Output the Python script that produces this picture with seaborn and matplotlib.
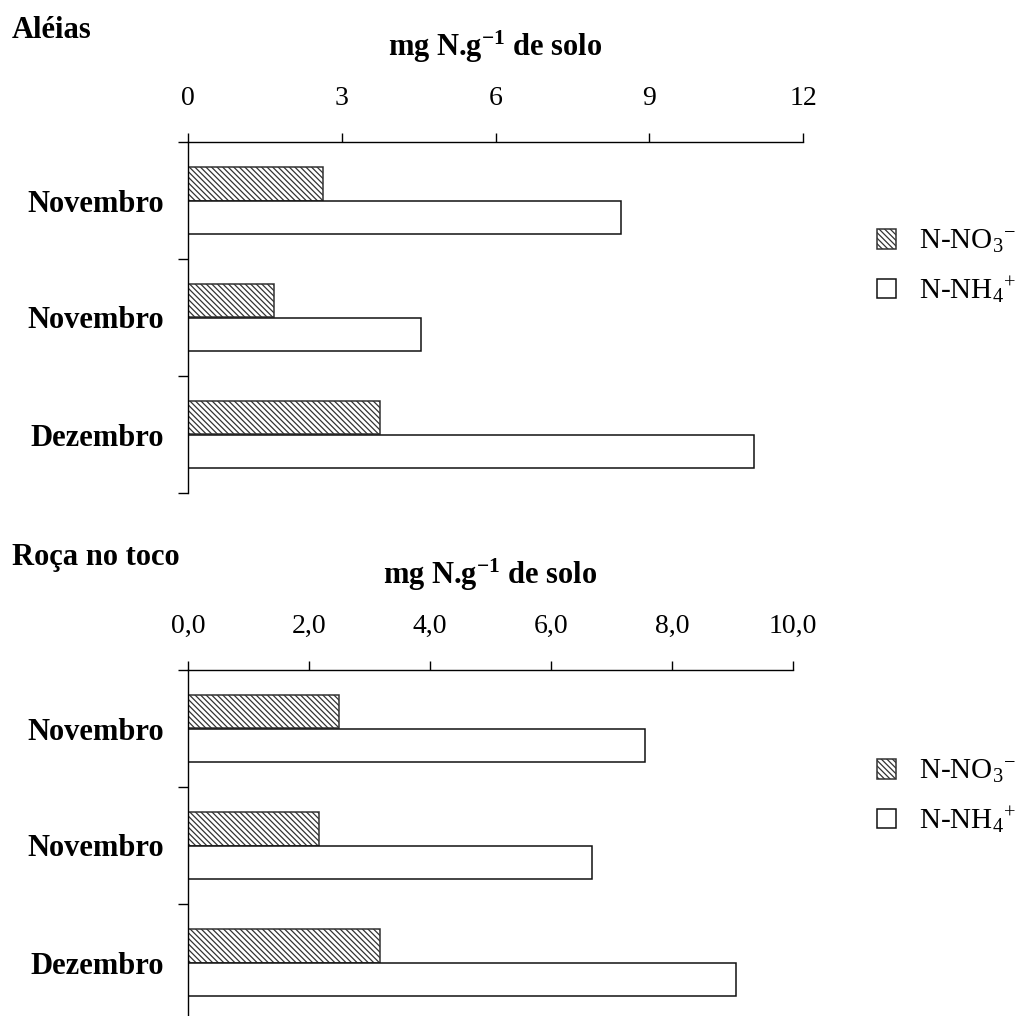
import pandas as pd
import numpy as np
import seaborn as sns
import matplotlib.pyplot as plt

# valores (mg N.g-1 de solo)
coletas = ['Novembro', 'Novembro', 'Dezembro']
formas = ['N-NO$_3$$^{-}$', 'N-NH$_4$$^{+}$']
aleias_no3 = [2.63, 1.68, 3.75]
aleias_nh4 = [8.44, 4.54, 11.04]
roca_no3 = [2.49, 2.17, 3.18]
roca_nh4 = [7.55, 6.67, 9.05]

aleias_ticks = [0, 3, 6, 9, 12]
aleias_ticklabels = ['0', '3', '6', '9', '12']
roca_ticks = [0, 2, 4, 6, 8, 10]
roca_ticklabels = ['0,0', '2,0', '4,0', '6,0', '8,0', '10,0']

sns.set_theme(style='ticks')
plt.rcParams['font.family'] = ['Liberation Serif', 'DejaVu Serif']
plt.rcParams['mathtext.fontset'] = 'custom'
plt.rcParams['mathtext.rm'] = 'Liberation Serif'
plt.rcParams['mathtext.it'] = 'Liberation Serif:italic'
plt.rcParams['mathtext.bf'] = 'Liberation Serif:bold'
plt.rcParams['hatch.linewidth'] = 0.9
for k in ['text.color', 'axes.labelcolor', 'xtick.color', 'ytick.color', 'axes.edgecolor']:
    plt.rcParams[k] = 'black'


def make_df(no3, nh4):
    rows = []
    for i in range(len(coletas)):
        rows.append({'coleta': str(i), 'forma': formas[0], 'valor': no3[i]})
        rows.append({'coleta': str(i), 'forma': formas[1], 'valor': nh4[i]})
    return pd.DataFrame(rows)


def painel(ax, df, xmax, ticks, ticklabels):
    sns.barplot(data=df, y='coleta', x='valor', hue='forma', orient='h',
                palette=['white', 'white'], width=0.58, gap=0,
                edgecolor='#111111', linewidth=1.1, legend=False, ax=ax)
    for p in ax.containers[0]:
        p.set_hatch('\\\\\\\\\\\\')
        p.set_edgecolor('#333333')
    ax.set_xlim(0, xmax)
    ax.set_ylim(2.5, -0.5)
    ax.xaxis.tick_top()
    ax.set_xticks(ticks)
    ax.set_xticklabels(ticklabels)
    ax.tick_params(axis='x', direction='out', length=6.5, width=1, pad=16,
                   labelsize=20)
    ax.set_yticks(range(len(coletas)))
    ax.set_yticklabels(coletas, fontweight='bold')
    ax.set_yticks([-0.5, 0.5, 1.5, 2.5], minor=True)
    ax.tick_params(axis='y', which='major', length=0, pad=17, labelsize=22)
    ax.tick_params(axis='y', which='minor', direction='out', length=7.2, width=1)
    for s in ['right', 'bottom']:
        ax.spines[s].set_visible(False)
    for s in ['top', 'left']:
        ax.spines[s].set_linewidth(1.0)
    ax.set_ylabel('')
    ax.set_xlabel(r'mg N.g$^{\mathbf{-1}}$ de solo', fontsize=22, fontweight='bold')
    ax.xaxis.set_label_position('top')
    ax.xaxis.set_label_coords(0.5, 1 + 86 / 351)
    ax.xaxis.label.set_va('baseline')


W, H = 1025, 1016
fig = plt.figure(figsize=(W / 100, H / 100), dpi=100)
ax1 = fig.add_axes([188 / W, 1 - 493 / H, 615 / W, 351 / H])
ax2 = fig.add_axes([188 / W, 1 - 1021 / H, 605 / W, 351 / H])

painel(ax1, make_df(aleias_no3, aleias_nh4), 12, aleias_ticks, aleias_ticklabels)
painel(ax2, make_df(roca_no3, roca_nh4), 10, roca_ticks, roca_ticklabels)

fig.text(12 / W, 1 - 38 / H, 'Aléias', fontsize=22, fontweight='bold', va='baseline')
fig.text(12 / W, 1 - 565 / H, 'Roça no toco', fontsize=22, fontweight='bold', va='baseline')

for ax, ymid in [(ax1, 267), (ax2, 797)]:
    handles = [ax.containers[0][0], ax.containers[1][0]]
    fig.legend(handles, formas, loc='center left',
               bbox_to_anchor=(877 / W, 1 - ymid / H),
               frameon=False, fontsize=21, handlelength=0.65, handleheight=0.65,
               handletextpad=0.8, labelspacing=0.65, borderpad=0, borderaxespad=0)

fig.savefig('out.png', dpi=100, facecolor='white')
